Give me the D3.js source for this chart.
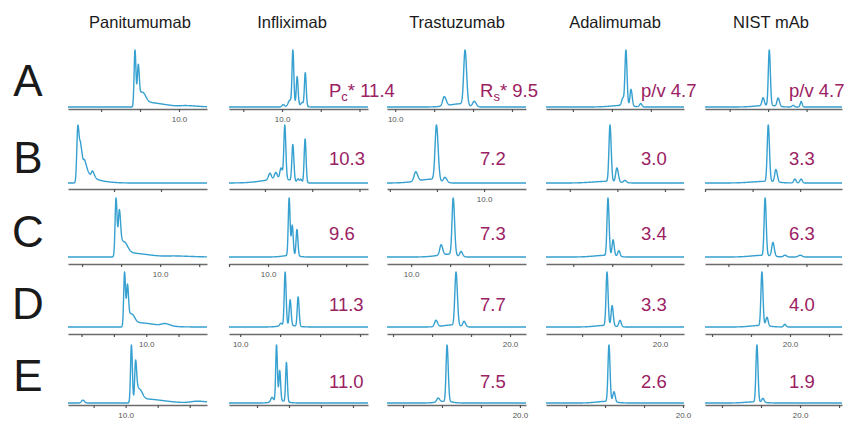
<!DOCTYPE html>
<html>
<head>
<meta charset="utf-8">
<script src="https://cdn.jsdelivr.net/npm/d3@7"></script>
<style>
  body { margin: 0; background: #fff; }
  text { font-family: "Liberation Sans", Arial, sans-serif; }
</style>
</head>
<body>
<svg id="chart" width="845" height="431"></svg>
<script>
// Column (antibody) and row (method) labels
const antibodies = ["Panitumumab", "Infliximab", "Trastuzumab", "Adalimumab", "NIST mAb"];
const rowLabels = ["A", "B", "C", "D", "E"];

// Separation metrics per method (rows A–E)
const peakCapacity = [11.4, 10.3, 9.6, 11.3, 11.0];      // Infliximab
const resolution = [9.5, 7.2, 7.3, 7.7, 7.5];            // Trastuzumab
const peakValleyAdalimumab = [4.7, 3.0, 3.4, 3.3, 2.6];
const peakValleyNist = [4.7, 3.3, 6.3, 4.0, 1.9];

// Chromatogram runs: time window (min), tick step (min), labelled tick,
// peaks as [retention time, relative height, sigma left, sigma right]
const panitumumabRuns = [
  { window: [7.15, 10.72], step: 1, label: 10, peaks: [[8.87, 1, .022, .026], [8.955, .74, .024, .03], [9.04, .22, .03, .09], [9.15, .08, .08, .45], [10.2, .02, .15, .3]] },
  { window: [4.02, 6.98], step: 1, label: null, peaks: [[4.23, 1, .022, .03], [4.29, .42, .02, .04], [4.375, .16, .02, .04], [4.54, .1, .02, .04], [4.32, .18, .05, .15], [4.45, .06, .1, .3]] },
  { window: [7.64, 11.2], step: 1, label: 10, peaks: [[8.87, 1, .024, .028], [8.955, .78, .026, .035], [9.05, .22, .04, .1], [9.15, .07, .08, .5], [10.4, .015, .2, .4]] },
  { window: [7.58, 11.88], step: 1, label: 10, peaks: [[9.33, 1, .027, .03], [9.42, .76, .028, .035], [9.52, .2, .04, .1], [9.65, .08, .1, .6], [10.58, .04, .1, .15]] },
  { window: [8.2, 12.54], step: 1, label: 10, peaks: [[8.66, .05, .04, .05], [10.18, 1, .027, .03], [10.31, .72, .028, .035], [10.4, .22, .04, .1], [10.55, .07, .1, .6], [12.25, .03, .2, .3]] }
];
const infliximabRuns = [
  { window: [8.63, 12.22], step: 1, label: 10, peaks: [[10.03, .04, .03, .03], [10.2, .1, .04, .04], [10.28, 1, .022, .024], [10.39, .52, .022, .024], [10.52, .06, .03, .03], [10.6, .62, .022, .024], [10.35, .04, .15, .15]] },
  { window: [10.24, 13.18], step: 1, label: null, peaks: [[11.105, .12, .03, .03], [11.23, .12, .03, .03], [11.34, .2, .025, .03], [11.42, 1, .02, .022], [11.59, .68, .02, .022], [11.7, .06, .02, .02], [11.76, .06, .02, .02], [11.85, .82, .02, .02], [11.35, .08, .35, .2]] },
  { window: [9.0, 12.56], step: 1, label: 10, peaks: [[10.54, 1, .022, .025], [10.62, .52, .022, .025], [10.74, .46, .022, .025], [10.6, .03, .2, .15]] },
  { window: [9.72, 13.2], step: 1, label: 10, peaks: [[11.02, .05, .03, .03], [11.125, 1, .022, .025], [11.25, .48, .022, .025], [11.45, .55, .022, .025], [11.2, .03, .2, .2]] },
  { window: [10.125, 14.47], step: 1, label: null, peaks: [[11.47, .08, .04, .04], [11.61, 1, .025, .028], [11.71, .54, .025, .028], [11.92, .7, .025, .028], [11.7, .04, .2, .2]] }
];
const trastuzumabRuns = [
  { window: [9.79, 13.36], step: 1, label: 10, peaks: [[11.26, .17, .04, .05], [11.795, 1, .035, .04], [12.03, .1, .04, .05], [11.7, .06, .3, .15]] },
  { window: [7.94, 10.89], step: 1, label: 10, peaks: [[8.55, .17, .035, .04], [8.99, 1, .03, .035], [9.17, .09, .03, .04], [8.9, .07, .3, .15]] },
  { window: [9.38, 12.95], step: 1, label: 10, peaks: [[10.77, .18, .035, .04], [11.08, 1, .03, .035], [11.28, .09, .03, .04], [11.0, .05, .3, .15]] },
  { window: [13.69, 20.82], step: 2, label: 20, peaks: [[16.2, .12, .07, .08], [17.23, 1, .06, .07], [17.64, .1, .06, .08], [17.1, .04, .5, .3]] },
  { window: [13.18, 20.31], step: 2, label: 20, peaks: [[15.8, .07, .07, .08], [16.26, 1, .05, .06], [16.2, .03, .4, .3]] }
];
const adalimumabRuns = [
  { window: [11.31, 14.85], step: 1, label: null, peaks: [[13.28, .13, .03, .03], [13.36, 1, .025, .028], [13.49, .3, .025, .03], [13.74, .06, .03, .03], [13.3, .03, .3, .2]] },
  { window: [11.5, 14.4], step: 1, label: null, peaks: [[12.845, 1, .022, .025], [12.99, .25, .025, .03], [13.16, .04, .03, .03], [12.8, .03, .3, .2]] },
  { window: [11.3, 14.84], step: 1, label: null, peaks: [[12.89, 1, .025, .028], [13.02, .28, .025, .03], [13.17, .1, .03, .03], [12.85, .03, .3, .2]] },
  { window: [14.15, 21.23], step: 2, label: 20, peaks: [[17.28, 1, .05, .055], [17.54, .38, .05, .06], [17.95, .12, .06, .06], [17.2, .03, .5, .4]] },
  { window: [12.97, 20.05], step: 2, label: 20, peaks: [[16.2, 1, .05, .055], [16.46, .18, .06, .06], [16.1, .03, .5, .4]] }
];
const nistRuns = [
  { window: [11.36, 14.92], step: 1, label: null, peaks: [[12.87, .14, .03, .03], [13.03, 1, .025, .028], [13.26, .15, .03, .035], [13.65, .03, .03, .03], [13.86, .1, .025, .025], [13.0, .03, .3, .2]] },
  { window: [12.0, 14.88], step: 1, label: null, peaks: [[13.33, 1, .022, .025], [13.49, .22, .025, .03], [13.89, .07, .025, .025], [14.02, .07, .025, .025], [13.3, .03, .3, .2]] },
  { window: [11.4, 14.91], step: 1, label: null, peaks: [[12.94, 1, .025, .028], [13.14, .24, .03, .035], [13.45, .03, .04, .04], [13.84, .03, .05, .05], [12.9, .03, .3, .2]] },
  { window: [15.64, 22.67], step: 2, label: 20, peaks: [[18.56, 1, .05, .055], [18.82, .16, .06, .06], [19.74, .05, .06, .06], [18.5, .03, .5, .4]] },
  { window: [15.13, 22.15], step: 2, label: 20, peaks: [[17.79, 1, .05, .055], [18.1, .07, .06, .06], [17.7, .02, .5, .4]] }
];

const runsByColumn = [panitumumabRuns, infliximabRuns, trastuzumabRuns, adalimumabRuns, nistRuns];
const metricByColumn = [null, peakCapacity, resolution, peakValleyAdalimumab, peakValleyNist];
const metricPrefix = [null, ["P", "c", "*"], ["R", "s", "*"], ["p/v"], ["p/v"]];

// ---- layout ----
const colSpans = [[68, 207], [229, 368], [387, 526], [546, 684], [705, 842]];
const rowAxisY = [109, 189, 264, 334, 405];
const rowTopY = [50, 125, 198, 272, 345];
const rowBaseGap = [2, 6, 7, 7, 2];
const metricX = [null, 329, 480, 641, 789];
const metricY = [97, 165, 240, 311, 388];
const headerX = [140, 292, 457, 615, 771];

const traceColor = "#36a0d0";
const metricColor = "#9b2163";

const svg = d3.select("#chart");

// detector signal as the sum of bi-Gaussian peaks
function signal(peaks, t) {
  let s = 0;
  for (const [c, h, sl, sr] of peaks) {
    const z = (t - c) / (t < c ? sl : sr);
    s += h * Math.exp(-0.5 * z * z);
  }
  return s;
}

// column headers
svg.selectAll("text.header").data(antibodies).join("text")
  .attr("class", "header")
  .attr("x", (d, i) => headerX[i]).attr("y", 28)
  .attr("text-anchor", "middle")
  .attr("font-size", 16.5).attr("fill", "#1a1a1a")
  .text(d => d);

// row letters
svg.selectAll("text.rowlab").data(rowLabels).join("text")
  .attr("class", "rowlab")
  .attr("x", 28).attr("y", (d, i) => rowTopY[i] + (rowAxisY[i] - rowTopY[i]) / 2 + 16)
  .attr("text-anchor", "middle")
  .attr("font-size", 44).attr("fill", "#1a1a1a")
  .text(d => d);

runsByColumn.forEach((runs, ci) => {
  runs.forEach((run, ri) => {
    const [x0, x1] = colSpans[ci];
    const x = d3.scaleLinear().domain(run.window).range([x0, x1]);
    const n = Math.round((x1 - x0) * 5);
    const pts = d3.range(n + 1).map(k => {
      const t = run.window[0] + (run.window[1] - run.window[0]) * k / n;
      return [t, signal(run.peaks, t)];
    });
    const y = d3.scaleLinear()
      .domain([0, d3.max(pts, p => p[1])])
      .range([rowAxisY[ri] - rowBaseGap[ri], rowTopY[ri]]);

    const g = svg.append("g");

    const ticks = d3.range(Math.ceil(run.window[0] / run.step) * run.step, run.window[1] + 1e-9, run.step);
    const axis = d3.axisBottom(x)
      .tickValues(ticks)
      .tickSize(3)
      .tickSizeOuter(0)
      .tickFormat(d => (run.label !== null && Math.abs(d - run.label) < 1e-9) ? d3.format(".1f")(d) : "");
    const ag = g.append("g").attr("transform", `translate(0,${rowAxisY[ri]})`).call(axis);
    ag.select(".domain").attr("stroke", "#6b6b6b").attr("stroke-width", 1.4);
    ag.selectAll(".tick line").attr("stroke", "#555").attr("stroke-width", 1.2);
    ag.selectAll(".tick text").attr("font-size", 8).attr("fill", "#555")
      .attr("font-family", "'DejaVu Sans', Verdana, sans-serif").attr("dy", "0.9em");

    g.append("path")
      .datum(pts)
      .attr("fill", "none")
      .attr("stroke", traceColor)
      .attr("stroke-width", 1.4)
      .attr("stroke-linejoin", "round")
      .attr("d", d3.line().x(p => x(p[0])).y(p => y(p[1])));
  });

  // separation metric labels
  const values = metricByColumn[ci];
  if (!values) return;
  values.forEach((v, ri) => {
    const t = svg.append("text")
      .attr("x", metricX[ci]).attr("y", metricY[ri])
      .attr("font-size", 18.5).attr("fill", metricColor);
    const pre = metricPrefix[ci];
    if (ri === 0 && pre.length === 3) {
      t.append("tspan").text(pre[0]);
      t.append("tspan").attr("font-size", 13).attr("dy", 4).text(pre[1]);
      t.append("tspan").attr("dy", -4).text(pre[2] + " " + d3.format(".1f")(v));
    } else if (ri === 0) {
      t.text(pre[0] + " " + d3.format(".1f")(v));
    } else {
      t.text(d3.format(".1f")(v));
    }
  });
});
</script>
</body>
</html>
